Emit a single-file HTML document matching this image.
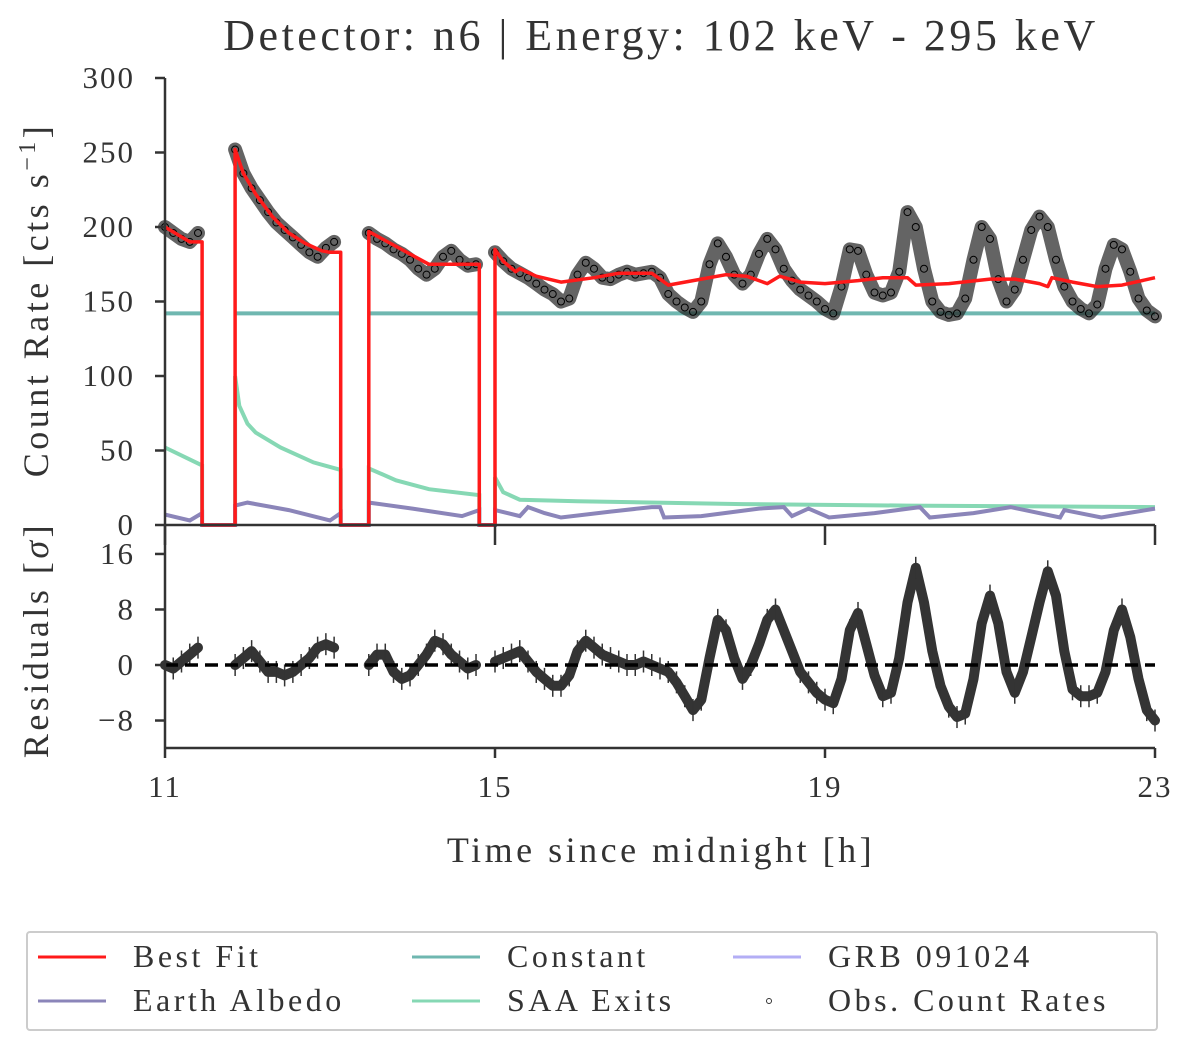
<!DOCTYPE html>
<html><head><meta charset="utf-8"><style>
body{margin:0;background:#fff;}
svg text{font-family:"Liberation Serif","DejaVu Serif",serif;fill:#333;}
</style></head><body>
<svg id="chart" width="1200" height="1032" viewBox="0 0 1200 1032" xmlns="http://www.w3.org/2000/svg">
<text x="661" y="50" font-size="44" text-anchor="middle" letter-spacing="3.5">Detector: n6 | Energy: 102 keV - 295 keV</text>
<g id="topPanel"></g>
<g id="botPanel"></g>
<g id="axesG"></g>
<text transform="translate(48,300) rotate(-90)" font-size="36" text-anchor="middle" letter-spacing="3.5">Count Rate [cts s<tspan dy="-13" font-size="24">−1</tspan><tspan dy="13">]</tspan></text>
<text transform="translate(48,640) rotate(-90)" font-size="36" text-anchor="middle" letter-spacing="3.5">Residuals [<tspan font-style="italic">σ</tspan>]</text>
<text x="661" y="862" font-size="36" text-anchor="middle" letter-spacing="3.5">Time since midnight [h]</text>
<g>
<rect x="27" y="932" width="1130" height="98" fill="#fff" stroke="#ccc" stroke-width="2" rx="3"/>
<g><line x1="38" y1="957" x2="106" y2="957" stroke="#ff1a1a" stroke-width="3"/><text x="133" y="967" font-size="32" letter-spacing="3.5">Best Fit</text></g>
<g><line x1="412" y1="957" x2="480" y2="957" stroke="#6fb7b0" stroke-width="3"/><text x="507" y="967" font-size="32" letter-spacing="3.5">Constant</text></g>
<g><line x1="733" y1="957" x2="801" y2="957" stroke="#b3aef5" stroke-width="3"/><text x="828" y="967" font-size="32" letter-spacing="3.5">GRB 091024</text></g>
<g><line x1="38" y1="1001" x2="106" y2="1001" stroke="#8b85b9" stroke-width="3"/><text x="133" y="1011" font-size="32" letter-spacing="3.5">Earth Albedo</text></g>
<g><line x1="412" y1="1001" x2="480" y2="1001" stroke="#86d8b4" stroke-width="3"/><text x="507" y="1011" font-size="32" letter-spacing="3.5">SAA Exits</text></g>
<g><circle cx="769" cy="1001" r="2.5" fill="none" stroke="#333" stroke-width="1"/><text x="828" y="1011" font-size="32" letter-spacing="3.5">Obs. Count Rates</text></g>
</g>
</svg>
<script>
// ---- data ----
const obsSegStart = [11.0, 11.85, 13.47, 15.0];
const obsSeg1 = [200,196,192,190,196];
const obsSeg2 = [252,236,226,218,210,203,198,193,188,183,180,186,190];
const obsSeg3 = [196,192,189,185,182,178,172,168,172,180,184,178,174,175];
const obsSeg4 = [183,177,172,169,166,162,158,155,150,152,168,176,172,166,165,168,170,168,169,170,166,155,150,146,143,150,175,189,180,168,162,168,182,192,185,172,164,158,154,150,145,142,160,185,184,168,156,154,156,170,210,200,172,150,143,141,142,152,178,200,192,165,150,158,178,198,207,200,178,160,150,145,142,148,172,188,185,170,152,144,140];
const resSeg1 = [0,-0.5,0.5,1.5,2.5];
const resSeg2 = [0,1,2,0.5,-1,-1,-1.5,-1,0,1,2.5,3,2.5];
const resSeg3 = [0,1.5,1.5,-1,-2,-1.5,0,1.5,3.5,3,1.5,0.5,-0.5,0];
const resSeg4 = [0.5,1,1.5,2,0.5,-1,-2,-3,-3,-1.5,2,3.5,2.5,1.5,1,0.5,0,0,0.5,0,-0.5,-1,-2.5,-4.5,-6.5,-5,1,6.5,5,1,-2,0,3,6.5,8,5,2,-1,-2.5,-4,-5,-5.5,-2,5,7.5,3,-1.5,-4.5,-4,1,9,14,9,2,-3,-6,-7.5,-7,-2,6,10,6,-1,-4,-1,4,9,13.5,10,2,-3.5,-4.5,-4.5,-4,-1,5,8,4,-2,-6.5,-8];
const fitT = [11.0,11.3,11.45,11.45,11.85,11.85,11.95,12.1,12.3,12.5,12.7,12.9,13.0,13.13,13.13,13.47,13.47,13.8,14.2,14.81,14.81,15.0,15.0,15.1,15.25,15.3,15.5,15.8,16.2,16.5,16.9,17.0,17.1,17.5,17.8,18.05,18.3,18.45,18.7,19.0,19.4,19.7,20.0,20.1,20.5,21.0,21.3,21.6,21.7,21.75,22.0,22.3,22.6,23.0];
const fitV = [200,190,190,0,0,252,236,222,207,196,189,184,183,183,0,0,197,187,175,175,0,0,185,177,170,172,167,163,166,169,169,165,161,165,168,167,162,167,163,162,164,166,166,161,162,165,165,162,160,166,163,160,161,166];
const saaT = [11.0,11.45,11.45,11.85,11.85,11.9,12.0,12.1,12.4,12.8,13.13,13.13,13.47,13.47,13.8,14.2,14.81,14.81,15.0,15.0,15.1,15.3,16.0,18.0,20.0,23.0];
const saaV = [52,40,0,0,100,80,68,62,52,42,37,0,0,38,30,24,20,0,0,32,22,17,16,14,13,12];
const albT = [11.0,11.3,11.45,11.45,11.85,11.85,12.0,12.5,13.0,13.13,13.13,13.47,13.47,14.0,14.6,14.81,14.81,15.0,15.0,15.3,15.4,15.6,15.8,16.4,16.9,17.0,17.05,17.5,18.2,18.5,18.6,18.8,19.05,19.6,20.15,20.27,20.8,21.25,21.85,21.9,22.35,23.0];
const albV = [7,3,8,0,0,13,15,10,3,8,0,0,15,11,6,10,0,0,10,6,12,8,5,9,12,12,5,6,11,12,6,11,5,8,12,5,8,12,5,10,5,11];
const constV = 142;
const xTicks = [11,15,19,23];
const yTicksTop = [0,50,100,150,200,250,300];
const yTicksBot = [-8,0,8,16];

// ---- scales ----
const X0=165,X1=1155;
const sx = t => X0 + (t-11)/12*(X1-X0);
const yT = v => 525 - v*1.49;
const yB = v => 665 - v*6.94;
const NS='http://www.w3.org/2000/svg';
function mk(tag, attrs, parent){const e=document.createElementNS(NS,tag);for(const k in attrs)e.setAttribute(k,attrs[k]);parent.appendChild(e);return e;}
const topG=document.getElementById('topPanel'), botG=document.getElementById('botPanel'), axesG=document.getElementById('axesG');
function pts(ts,vs,f){return ts.map((t,i)=>sx(t).toFixed(1)+','+f(vs[i]).toFixed(1)).join(' ');}

const obsSegs=[obsSeg1,obsSeg2,obsSeg3,obsSeg4], resSegs=[resSeg1,resSeg2,resSeg3,resSeg4];
const segEnd=[11.45,13.13,14.81,23.0];

obsSegStart.forEach((s,i)=>{
  const l=mk('line',{x1:sx(s),x2:sx(segEnd[i]),y1:yT(constV),y2:yT(constV),stroke:'#6fb7b0','stroke-width':4},topG);
  
  
});
let p=mk('polyline',{points:pts(saaT,saaV,yT),fill:'none',stroke:'#86d8b4','stroke-width':4},topG);


p=mk('polyline',{points:pts(albT,albV,yT),fill:'none',stroke:'#8b85b9','stroke-width':4},topG);


obsSegs.forEach((seg,si)=>{
  const ts=seg.map((v,i)=>obsSegStart[si]+i*0.1);
  const band=mk('polyline',{points:pts(ts,seg,yT),fill:'none',stroke:'#222','stroke-width':14,'stroke-linejoin':'round','stroke-linecap':'round',opacity:0.7},topG);
  
  
  seg.forEach((v,i)=>{
    const c=mk('circle',{cx:sx(ts[i]),cy:yT(v),r:3.5,fill:'none',stroke:'#000','stroke-width':1},topG);
    
    
  });
});
p=mk('polyline',{points:pts(fitT,fitV,yT),fill:'none',stroke:'#ff1a1a','stroke-width':3.5,'stroke-linejoin':'round'},topG);



resSegs.forEach((seg,si)=>{
  const ts=seg.map((v,i)=>obsSegStart[si]+i*0.1);
  const band=mk('polyline',{points:pts(ts,seg,yB),fill:'none',stroke:'#111','stroke-width':10,'stroke-linejoin':'round','stroke-linecap':'round',opacity:0.85},botG);
  
  
  seg.forEach((v,i)=>{
    const e=mk('line',{x1:sx(ts[i]),x2:sx(ts[i]),y1:yB(v)-11,y2:yB(v)+11,stroke:'#333','stroke-width':1.5},botG);
    
    
  });
});
const zl=mk('line',{x1:X0,x2:X1,y1:yB(0),y2:yB(0),stroke:'#000','stroke-width':3.5,'stroke-dasharray':'13 7'},botG);



const AX='#333';
[[X0,78,X0,525],[X0,525,X1,525],[X0,526,X0,748],[X0,748,X1,748]].forEach(a=>{
  const l=mk('line',{x1:a[0],y1:a[1],x2:a[2],y2:a[3],stroke:AX,'stroke-width':2.5},axesG);
  
  
});
yTicksTop.forEach(v=>{
  const l=mk('line',{x1:X0-10,x2:X0,y1:yT(v),y2:yT(v),stroke:AX,'stroke-width':2.5},axesG);
  
  
  const t=mk('text',{x:X0-30,y:yT(v)+10,'font-size':31,'text-anchor':'end','letter-spacing':2},axesG);t.textContent=v;
  
  
});
yTicksBot.forEach(v=>{
  const l=mk('line',{x1:X0-10,x2:X0,y1:yB(v),y2:yB(v),stroke:AX,'stroke-width':2.5},axesG);
  
  
  const t=mk('text',{x:X0-30,y:yB(v)+10,'font-size':31,'text-anchor':'end','letter-spacing':2},axesG);t.textContent=(v<0?'−':'')+Math.abs(v);
  
  
});
xTicks.forEach(v=>{
  const l=mk('line',{x1:sx(v),x2:sx(v),y1:525,y2:545,stroke:AX,'stroke-width':2.5},axesG);
  
  
  const l2=mk('line',{x1:sx(v),x2:sx(v),y1:748,y2:758,stroke:AX,'stroke-width':2.5},axesG);
  
  
  const t=mk('text',{x:sx(v),y:797,'font-size':31,'text-anchor':'middle','letter-spacing':2},axesG);t.textContent=v;
  
  
});
</script>
</body></html>
